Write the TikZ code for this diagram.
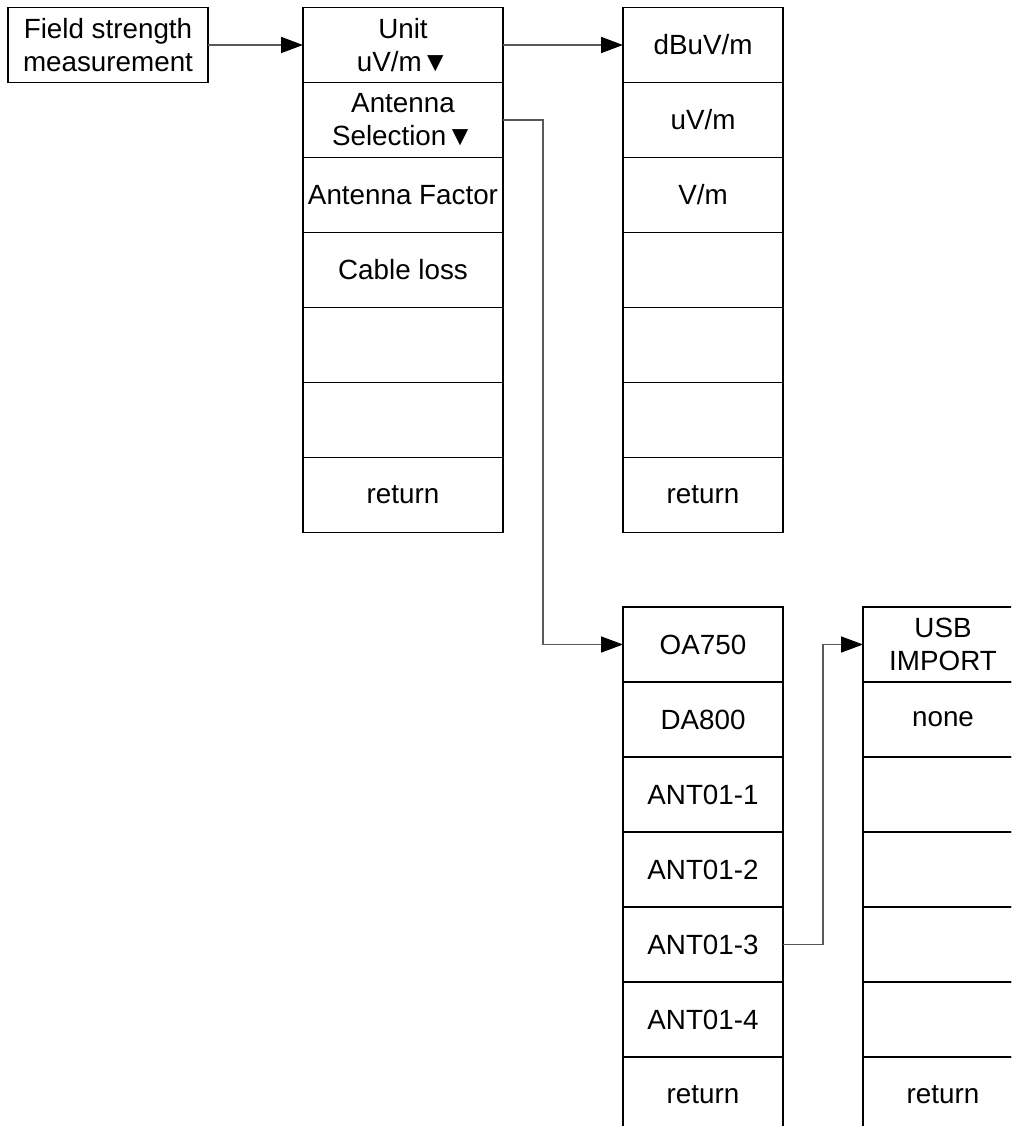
\documentclass[tikz,border=0pt]{standalone}
\usepackage{fontspec}
\setmainfont{Liberation Sans}
\usetikzlibrary{arrows.meta, positioning}
\tikzset{
	menubox/.style={rectangle, draw=black, line width=1.2pt, minimum width=200pt, minimum height=75pt, inner sep=0pt, outer sep=0pt, align=center},
	softkey/.style={menubox, minimum width=160pt},
	link/.style={-{Triangle[length=22pt, width=16pt, color=black, fill=black]}, line width=1.6pt, draw=black!65},
}

\begin{document}
\begin{tikzpicture}[x=1pt, y=-1pt, font=\fontsize{27.8}{33}\selectfont, node distance=0pt]
	\useasboundingbox (0,0) rectangle (1011,1126);
	\clip (0,0) rectangle (1011,1126);
	% entry key
	\node[menubox] (field) at (108,45) {Field strength\\measurement};
	% field strength menu
	\node[menubox, anchor=north west] (unit) at (303,7.5) {Unit\\uV/m▼};
	\node[menubox, below=of unit] (antsel) {Antenna\\Selection▼};
	\node[menubox, below=of antsel] (antfac) {Antenna Factor};
	\node[menubox, below=of antfac] (cable) {Cable loss};
	\node[menubox, below=of cable] (fe1) {};
	\node[menubox, below=of fe1] (fe2) {};
	\node[menubox, below=of fe2] (fret) {return};
	% unit menu
	\node[softkey, anchor=north west] (dbuv) at (623,7.5) {dBuV/m};
	\node[softkey, below=of dbuv] (uv) {uV/m};
	\node[softkey, below=of uv] (vm) {V/m};
	\node[softkey, below=of vm] (ue1) {};
	\node[softkey, below=of ue1] (ue2) {};
	\node[softkey, below=of ue2] (ue3) {};
	\node[softkey, below=of ue3] (uret) {return};
	% antenna menu
	\node[softkey, anchor=north west] (oa) at (623,607) {OA750};
	\node[softkey, below=of oa] (da) {DA800};
	\node[softkey, below=of da] (ant1) {ANT01-1};
	\node[softkey, below=of ant1] (ant2) {ANT01-2};
	\node[softkey, below=of ant2] (ant3) {ANT01-3};
	\node[softkey, below=of ant3] (ant4) {ANT01-4};
	\node[softkey, below=of ant4] (aret) {return};
	% import menu
	\node[softkey, anchor=north west] (usb) at (863,607) {USB\\IMPORT};
	\node[softkey, below=of usb] (none) {none};
	\node[softkey, below=of none] (ie1) {};
	\node[softkey, below=of ie1] (ie2) {};
	\node[softkey, below=of ie2] (ie3) {};
	\node[softkey, below=of ie3] (ie4) {};
	\node[softkey, below=of ie4] (iret) {return};
	% links
	\draw[link] (field) -- (unit);
	\draw[link] (unit) -- (dbuv);
	\draw[link] (antsel.east) -- ++(40,0) |- (oa.west);
	\draw[link] (ant3.east) -- ++(40,0) |- (usb.west);
\end{tikzpicture}
\end{document}
